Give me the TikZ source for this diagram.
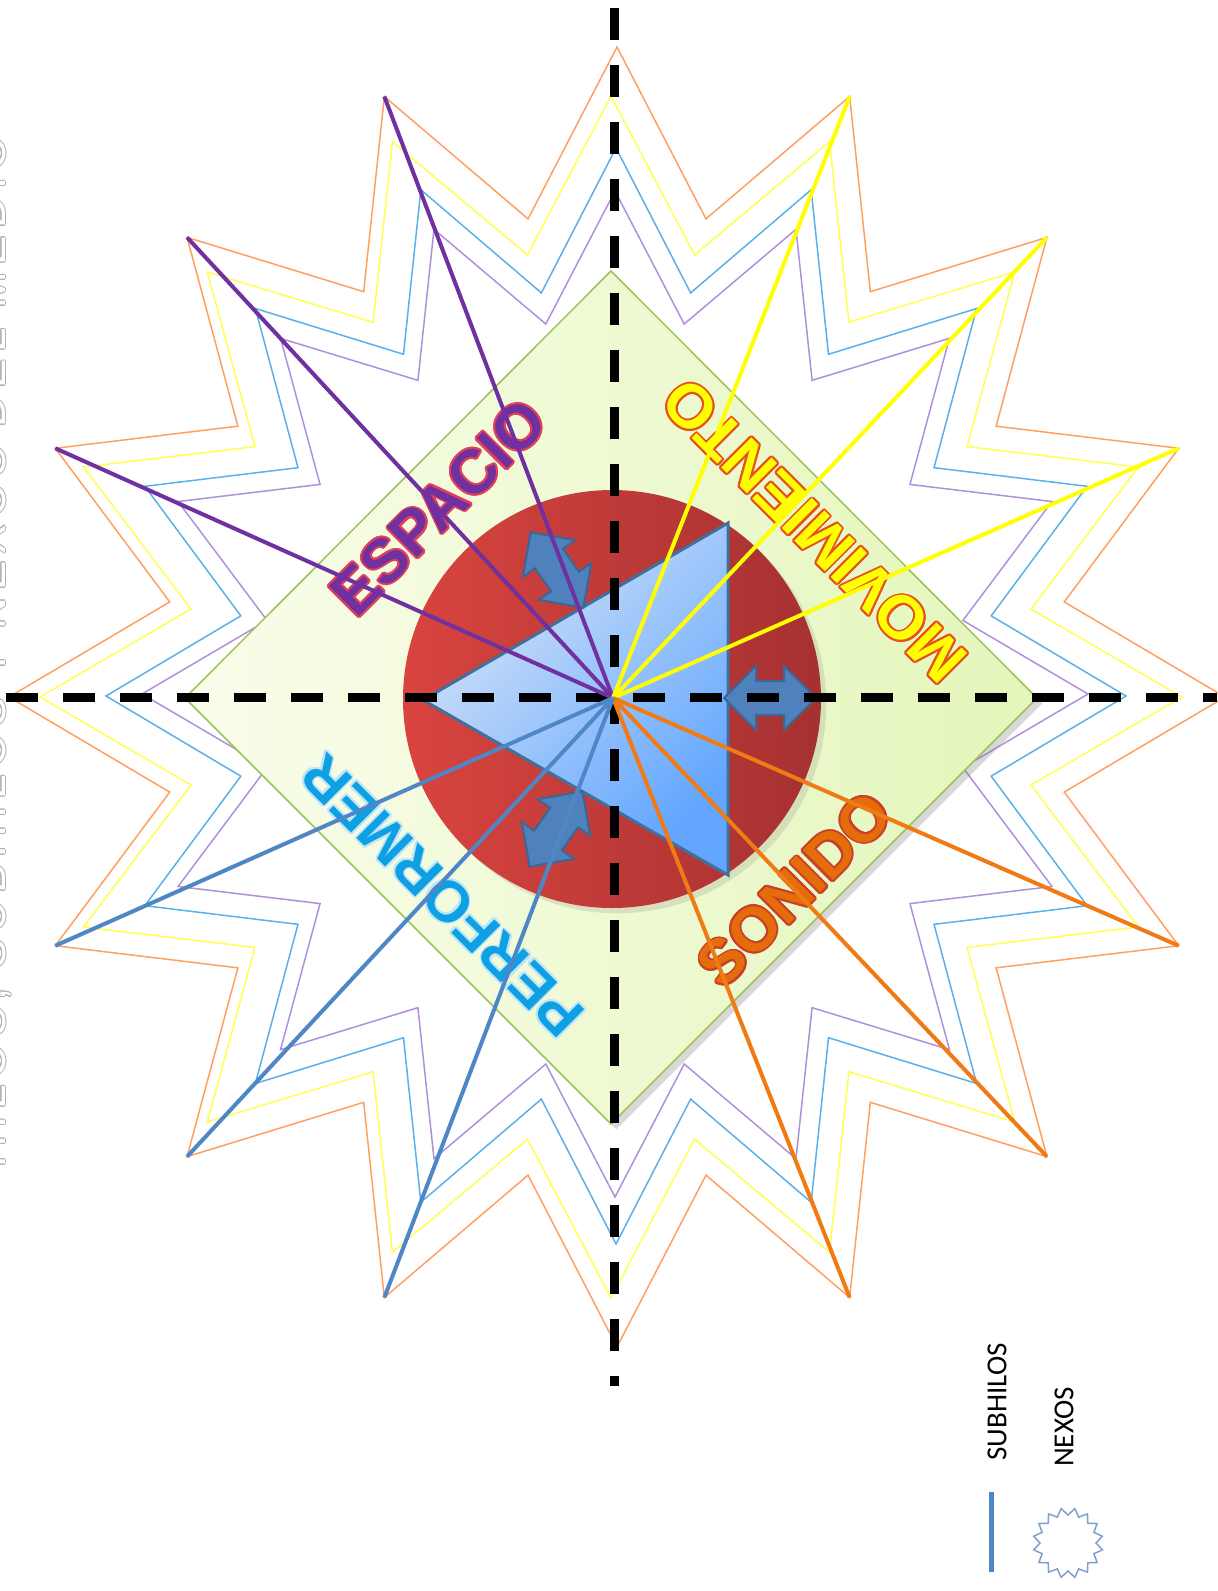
\documentclass[tikz,border=0pt]{standalone}
\usepackage{fontspec}
\usepackage[copies]{contour}
\usetikzlibrary{shapes.geometric,shapes.arrows,shadows}
\setmainfont{Liberation Sans}
\newfontfamily\legendfont{Carlito}
\newfontfamily\titlefont{Liberation Sans}[LetterSpace=16]
\definecolor{starorange}{HTML}{FFA060}
\definecolor{staryellow}{HTML}{FFFF50}
\definecolor{starblue}{HTML}{5BB0E8}
\definecolor{starpurple}{HTML}{B090DD}
\definecolor{raypurple}{HTML}{7030A0}
\definecolor{rayyellow}{HTML}{FFFF00}
\definecolor{rayorange}{HTML}{F07A14}
\definecolor{rayblue}{HTML}{4F86C6}
\definecolor{diamondleft}{HTML}{FAFDEB}
\definecolor{diamondright}{HTML}{E3F6BA}
\definecolor{diamondline}{HTML}{9BC35A}
\definecolor{discleft}{HTML}{D9443F}
\definecolor{discright}{HTML}{A53131}
\definecolor{trilight}{HTML}{D5E4F7}
\definecolor{tridark}{HTML}{62A6FF}
\definecolor{triline}{HTML}{41709F}
\definecolor{arrowfill}{HTML}{4F81BD}
\definecolor{arrowline}{HTML}{3B6796}
\definecolor{espaciofill}{HTML}{7030A0}
\definecolor{espacioline}{HTML}{E0405A}
\definecolor{movfill}{HTML}{FFFF00}
\definecolor{movline}{HTML}{E85020}
\definecolor{sonidofill}{HTML}{E46C0A}
\definecolor{sonidoline}{HTML}{C8402A}
\definecolor{perffill}{HTML}{0FA0E4}
\definecolor{perfline}{HTML}{BFE6F8}
\definecolor{nexosline}{HTML}{7F9FCC}

\begin{document}
\begin{tikzpicture}[x=0.5pt,y=-0.5pt,
  starline/.style={line width=0.75pt},
  axisline/.style={line width=4.5pt, dash pattern=on 16pt off 12.5pt},
  ray/.style={line width=2pt},
  swaparrow/.style={double arrow, draw=arrowline, fill=arrowfill, line width=1pt, minimum height=46pt, double arrow head extend=7.5pt, inner xsep=0pt, inner ysep=8pt},
  themelabel/.style={font=\bfseries\fontsize{31}{31}\selectfont, inner sep=0pt},
  legendtext/.style={font=\legendfont\fontsize{14.5}{14.5}\selectfont, rotate=90, inner sep=0pt}]
\fill[white] (0,0) rectangle (1217,1591);
\useasboundingbox (0,0) rectangle (1217,1591);

% nexos
\foreach \cx/\cy/\ra/\rb/\col in {617/697/608/650/starorange, 611/697/571/601/staryellow, 616/696/510/548/starblue, 615/694/473/503/starpurple}
  \draw[starline, draw=\col] ({\cx},{\cy-\rb}) \foreach \k in {1,...,16} { -- ({\cx+0.75*\ra*cos(101.25-22.5*\k)},{\cy-0.75*\rb*sin(101.25-22.5*\k)}) -- ({\cx+\ra*cos(90-22.5*\k)},{\cy-\rb*sin(90-22.5*\k)}) } -- cycle;
\foreach \k in {1,...,16}
  \coordinate (tip-\k) at ({617+608*cos(90-22.5*\k)},{697-650*sin(90-22.5*\k)});

\coordinate (dia-n) at (611,271);
\coordinate (dia-e) at (1037,698);
\coordinate (dia-s) at (611,1124);
\coordinate (dia-w) at (185,698);
\path[draw=diamondline, line width=0.75pt, left color=diamondleft, right color=diamondright, drop shadow={opacity=0.3}] (dia-n) -- (dia-e) -- (dia-s) -- (dia-w) -- cycle;

\coordinate (disc) at (612,699);
\path[left color=discleft, right color=discright, drop shadow={opacity=0.2}] (disc) circle[radius=209];

\coordinate (tri-w) at (423,700);
\coordinate (tri-ne) at (728,523);
\coordinate (tri-se) at (728,875);
\path[draw=triline, line width=1.5pt, top color=trilight, bottom color=tridark, shading angle=45] (tri-w) -- (tri-ne) -- (tri-se) -- cycle;

\node[swaparrow, rotate=-55] (arr-up) at (557,570) {};
\node[swaparrow, rotate=55] (arr-dn) at (556,829) {};
\node[swaparrow] (arr-rt) at (770,698) {};

\node[themelabel, text=espaciofill, rotate=45] (lbl-esp) at (439,508) {\contour{espacioline}{ESPACIO}};
\node[themelabel, text=movfill, rotate=135] (lbl-mov) at (815,530) {\contour{movline}{MOVIMIENTO}};
\node[themelabel, text=sonidofill, rotate=45] (lbl-son) at (795,890) {\contour{sonidoline}{SONIDO}};
\node[themelabel, text=perffill, rotate=135, font=\bfseries\fontsize{29}{29}\selectfont] (lbl-perf) at (443,895) {\contour{perfline}{PERFORMER}};

\node[rotate=90, anchor=base, inner sep=0pt, text=white, font=\titlefont\fontsize{22}{22}\selectfont] (title) at (5,652) {\contourlength{0.5pt}\contour{gray!60}{HILOS, SUBHILOS Y NEXOS DEL MEDIO}};

\coordinate (ax-n) at (614,8);
\coordinate (ax-s) at (614,1386);
\coordinate (ax-w) at (6,697);
\coordinate (ax-e) at (1217,697);
\path[axisline] (ax-n) edge (ax-s) (ax-w) edge (ax-e);

% subhilos
\coordinate (hub) at (613,698);
\path[ray, raypurple] (hub) edge (tip-13) edge (tip-14) edge (tip-15);
\path[ray, rayyellow] (hub) edge (tip-1) edge (tip-2) edge (tip-3);
\path[ray, rayorange] (hub) edge (tip-5) edge (tip-6) edge (tip-7);
\path[ray, rayblue] (hub) edge (tip-9) edge (tip-10) edge (tip-11);

\node[legendtext] (leg-sub) at (997,1402) {SUBHILOS};
\node[legendtext] (leg-nex) at (1064,1427) {NEXOS};
\coordinate (leg-a) at (991,1492);
\coordinate (leg-b) at (991,1572);
\draw[line width=2.5pt, rayblue] (leg-a) -- (leg-b);
\node[star, star points=16, star point ratio=0.8, draw=nexosline, line width=0.75pt, minimum size=28pt, inner sep=0pt] (leg-star) at (1068,1543) {};
\end{tikzpicture}
\end{document}
